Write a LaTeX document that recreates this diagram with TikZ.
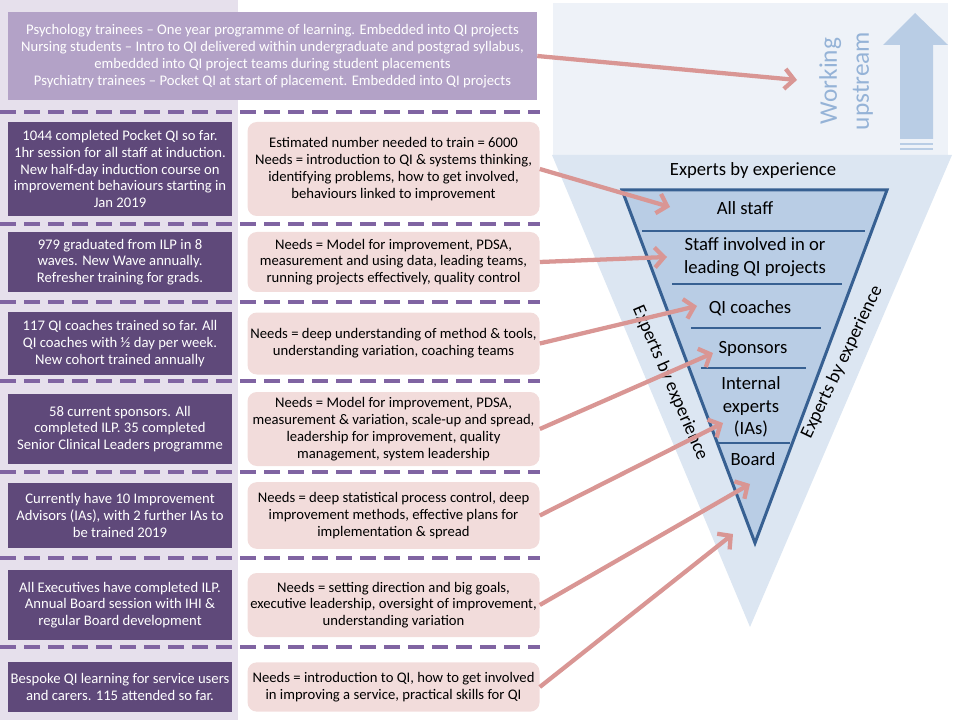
\documentclass[tikz,border=0pt]{standalone}
\usepackage{fontspec}
\setmainfont{Carlito}
\usetikzlibrary{arrows.meta,positioning}
\definecolor{lavbg}{HTML}{E6E0EC}
\definecolor{lavtop}{HTML}{B3A2C7}
\definecolor{plum}{HTML}{5F497A}
\definecolor{dashpurple}{HTML}{8064A2}
\definecolor{rosefill}{HTML}{F2DCDB}
\definecolor{rosearrow}{HTML}{D99694}
\definecolor{skypanel}{HTML}{EEF2F8}
\definecolor{skyfunnel}{HTML}{DCE6F2}
\definecolor{skyfill}{HTML}{B9CDE5}
\definecolor{navyline}{HTML}{376092}
\definecolor{skytext}{HTML}{95B3D7}

\begin{document}
\begin{tikzpicture}[
  x=0.75pt, y=-0.75pt,
  base/.style={align=center, inner xsep=1pt, inner ysep=2pt, font=\fontsize{11}{12.6}\selectfont},
  fact/.style={base, fill=plum, text=white, minimum width=168pt},
  need/.style={base, fill=rosefill, rounded corners=7pt, minimum width=219pt},
  tier/.style={align=center, inner sep=1pt, font=\fontsize{14}{17}\selectfont},
  sep/.style={draw=dashpurple, line width=3pt, dash pattern=on 12pt off 6pt},
  feed/.style={draw=rosearrow, line width=3.2pt, -{Straight Barb[length=7pt,width=15pt]}}
]
  \useasboundingbox (0,0) rectangle (960,720);
  % backgrounds
  \fill[lavbg] (0,0) rectangle (238,720);
  \fill[skypanel] (553,3) rectangle (948,155);
  \fill[skyfunnel] (552,155) -- (952,155) -- (750,627) -- cycle;
  \filldraw[fill=skyfill, draw=navyline, line width=2.25pt] (622,190) -- (887,190) -- (755,543) -- cycle;
  \foreach \y/\xa/\xb in {231/642/865, 284/672/842, 328/691/821, 368/701/806, 443/716/790}
    \draw[navyline, line width=2pt] (\xa,\y) -- (\xb,\y);

  % working upstream arrow
  \fill[skyfill] (900,139) -- (900,45) -- (883,45) -- (915,13) -- (948,45) -- (933,45) -- (933,139) -- cycle;
  \fill[skyfill] (900,143) rectangle (933,145.5);
  \fill[skyfill] (900,148) rectangle (933,150.5);
  \node[text=skytext, rotate=90, align=center, font=\fontsize{19}{24}\selectfont] (upstream) at (846,81) {Working\\upstream};

  % funnel tiers
  \node[tier] (eetop) at (753,171) {Experts by experience};
  \node[tier] (allstaff) at (745,208) {All staff};
  \node[tier] (involved) at (755,257) {Staff involved in or\\leading QI projects};
  \node[tier] (coaches) at (750,308) {QI coaches};
  \node[tier] (sponsors) at (753,349) {Sponsors};
  \node[tier] (internal) at (751,407) {Internal\\experts\\(IAs)};
  \node[tier] (board) at (753,459) {Board};
  \node[tier, rotate=-66.7] (eeleft) at (670,383) {Experts by experience};
  \node[tier, rotate=64.5] (eeright) at (842,362) {Experts by experience};

  % learning offers
  \node[base, fill=lavtop, text=white, minimum width=396.75pt, minimum height=66pt] (trainees) at (272.5,56)
    {Psychology trainees – One year programme of learning. Embedded into QI projects\\
     Nursing students – Intro to QI delivered within undergraduate and postgrad syllabus,\\
     embedded into QI project teams during student placements\\
     Psychiatry trainees – Pocket QI at start of placement. Embedded into QI projects};
  \foreach \y in {112,224,302,381,472,558,647}
    \draw[sep] (0,\y) -- (540,\y);

  \node[fact, minimum height=70.5pt] (f1) at (120,169)
    {1044 completed Pocket QI so far.\\1hr session for all staff at induction.\\New half-day induction course on\\improvement behaviours starting in\\Jan 2019};
  \node[need, minimum height=70.5pt, right=11.25pt of f1] (n1)
    {Estimated number needed to train = 6000\\Needs = introduction to QI \& systems thinking,\\identifying problems, how to get involved,\\behaviours linked to improvement};
  \node[fact, minimum height=45pt] (f2) at (120,262)
    {979 graduated from ILP in 8\\waves. New Wave annually.\\Refresher training for grads.};
  \node[need, minimum height=45pt, right=11.25pt of f2] (n2)
    {Needs = Model for improvement, PDSA,\\measurement and using data, leading teams,\\running projects effectively, quality control};
  \node[fact, minimum height=47pt] (f3) at (120,343.5)
    {117 QI coaches trained so far. All\\QI coaches with ½ day per week.\\New cohort trained annually};
  \node[need, minimum height=46.5pt, right=11.25pt of f3] (n3)
    {Needs = deep understanding of method \& tools,\\understanding variation, coaching teams};
  \node[fact, minimum height=52.5pt] (f4) at (120,429)
    {58 current sponsors. All\\completed ILP. 35 completed\\Senior Clinical Leaders programme};
  \node[need, minimum height=55.5pt, right=11.25pt of f4] (n4)
    {Needs = Model for improvement, PDSA,\\measurement \& variation, scale-up and spread,\\leadership for improvement, quality\\management, system leadership};
  \node[fact, minimum height=49pt] (f5) at (120,515.5)
    {Currently have 10 Improvement\\Advisors (IAs), with 2 further IAs to\\be trained 2019};
  \node[need, minimum height=50pt, right=11.25pt of f5] (n5)
    {Needs = deep statistical process control, deep\\improvement methods, effective plans for\\implementation \& spread};
  \node[fact, minimum height=52.5pt] (f6) at (120,605)
    {All Executives have completed ILP.\\Annual Board session with IHI \&\\regular Board development};
  \node[need, minimum height=48pt, right=11.25pt of f6] (n6)
    {Needs = setting direction and big goals,\\executive leadership, oversight of improvement,\\understanding variation};
  \node[fact, minimum height=37.5pt] (f7) at (120,687)
    {Bespoke QI learning for service users\\and carers. 115 attended so far.};
  \node[need, minimum height=37pt, right=11.25pt of f7] (n7)
    {Needs = introduction to QI, how to get involved\\in improving a service, practical skills for QI};

  % arrows into the funnel
  \coordinate (tip0) at (797,80);
  \coordinate (tip1) at (670,207);
  \coordinate (tip2) at (667,257);
  \coordinate (tip3) at (697,306);
  \coordinate (tip4) at (713,353);
  \coordinate (tip5) at (723,423);
  \coordinate (tip6) at (750,484);
  \coordinate (tip7) at (733,534);
  \draw[feed] (trainees.east) -- (tip0);
  \draw[feed] (n1.east) -- (tip1);
  \draw[feed] (n2.east) -- (tip2);
  \draw[feed] (n3.east) -- (tip3);
  \draw[feed] (n4.east) -- (tip4);
  \draw[feed] (n5.east) -- (tip5);
  \draw[feed] (n6.east) -- (tip6);
  \draw[feed] (n7.east) -- (tip7);
\end{tikzpicture}
\end{document}
